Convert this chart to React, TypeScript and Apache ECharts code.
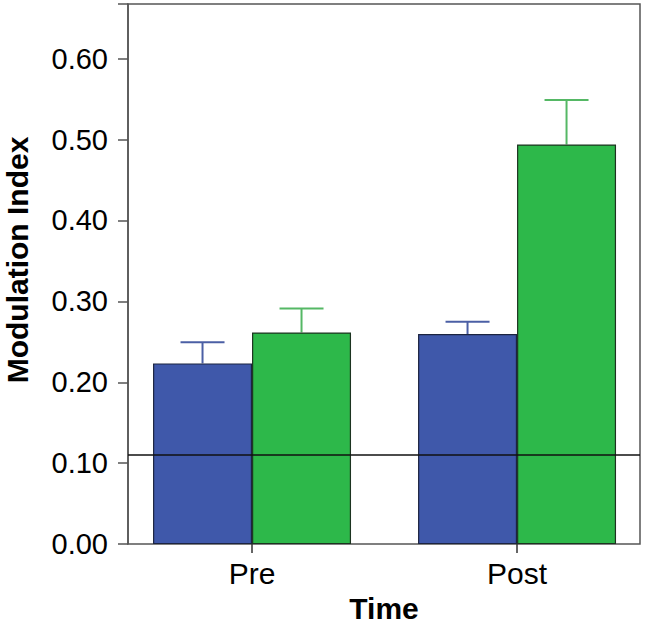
import React, { useEffect, useRef } from "react";
import * as echarts from "echarts";

const categories = ["Pre", "Post"];
const blueMeans = [0.2233, 0.2596];
const blueUpper = [0.2494, 0.2747];
const greenMeans = [0.2616, 0.4939];
const greenUpper = [0.2913, 0.549];
const referenceValue = 0.11;
const yTicks = [0, 0.1, 0.2, 0.3, 0.4, 0.5, 0.6];

const BAR_W = 99;
const CAP_W = 44;
const FONT = "'Liberation Sans', Arial, Helvetica, sans-serif";

export default function App() {
  const ref = useRef<HTMLDivElement>(null);
  useEffect(() => {
    if (!ref.current) return;
    const chart = echarts.init(ref.current, null, { renderer: "svg" });

    const errRender = (offset: number, color: string) => (params: any, api: any) => {
      const x = api.value(0);
      const mean = api.value(1);
      const up = api.value(2);
      const p0 = api.coord([x, mean]);
      const p1 = api.coord([x, up]);
      const cx = p0[0] + offset;
      return {
        type: "group",
        children: [
          {
            type: "line",
            shape: { x1: cx, y1: p0[1], x2: cx, y2: p1[1] },
            style: { stroke: color, lineWidth: 2 },
          },
          {
            type: "line",
            shape: { x1: cx - CAP_W / 2, y1: p1[1], x2: cx + CAP_W / 2, y2: p1[1] },
            style: { stroke: color, lineWidth: 2 },
          },
        ],
      };
    };

    const option: any = {
      animation: false,
      backgroundColor: "#fff",
      grid: {
        left: 128,
        width: 512,
        top: 4,
        height: 546,
        show: true,
        borderColor: "#555",
        borderWidth: 1.5,
        backgroundColor: "transparent",
      },
      xAxis: {
        type: "value",
        min: -0.468,
        max: 1.464,
        name: "Time",
        nameLocation: "middle",
        nameGap: 41,
        nameTextStyle: { fontFamily: FONT, fontSize: 30, fontWeight: "bold", color: "#000" },
        axisLine: { show: false, onZero: false },
        splitLine: { show: false },
        axisTick: {
          show: true,
          customValues: [0, 1],
          length: 9,
          lineStyle: { color: "#333", width: 1.5 },
        },
        axisLabel: {
          customValues: [0, 1],
          formatter: (v: number) => categories[Math.round(v)] ?? "",
          fontFamily: FONT,
          fontSize: 30,
          color: "#000",
          margin: 14,
        },
      },
      yAxis: {
        type: "value",
        min: 0,
        max: 0.6675,
        interval: 0.1,
        axisLine: { show: true, onZero: false, lineStyle: { color: "#555", width: 1.5 } },
        splitLine: { show: false },
        axisTick: { show: true, length: 10, lineStyle: { color: "#555", width: 1.5 } },
        axisLabel: {
          fontFamily: FONT,
          fontSize: 29,
          color: "#000",
          margin: 20,
          formatter: (v: number) => (yTicks.some((t) => Math.abs(t - v) < 1e-6) ? v.toFixed(2) : ""),
        },
      },
      graphic: [
        {
          type: "text",
          x: 17,
          y: 260,
          rotation: Math.PI / 2,
          style: {
            text: "Modulation Index",
            fontFamily: FONT,
            fontSize: 30,
            fontWeight: "bold",
            fill: "#000",
            textAlign: "center",
            textVerticalAlign: "middle",
          },
        },
      ],
      series: [
        {
          type: "bar",
          data: blueMeans.map((v, i) => [i, v]),
          barWidth: BAR_W,
          barGap: "0%",
          itemStyle: { color: "#3F58AA", borderColor: "#1c2440", borderWidth: 1.2 },
          markLine: {
            silent: true,
            symbol: "none",
            label: { show: false },
            lineStyle: { color: "#111", width: 1.5, type: "solid" },
            data: [{ yAxis: referenceValue }],
            z: 10,
          },
          z: 2,
        },
        {
          type: "bar",
          data: greenMeans.map((v, i) => [i, v]),
          barWidth: BAR_W,
          barGap: "0%",
          itemStyle: { color: "#2DB84A", borderColor: "#1c3320", borderWidth: 1.2 },
          z: 2,
        },
        {
          type: "custom",
          renderItem: errRender(-BAR_W / 2, "#4B5FA5"),
          data: blueMeans.map((v, i) => [i, v, blueUpper[i]]),
          z: 1,
        },
        {
          type: "custom",
          renderItem: errRender(BAR_W / 2, "#55B865"),
          data: greenMeans.map((v, i) => [i, v, greenUpper[i]]),
          z: 1,
        },
      ],
    };
    chart.setOption(option);
    return () => chart.dispose();
  }, []);
  return (
    <div
      ref={ref}
      style={{ position: "fixed", left: 0, top: 0, width: 645, height: 628 }}
    />
  );
}
